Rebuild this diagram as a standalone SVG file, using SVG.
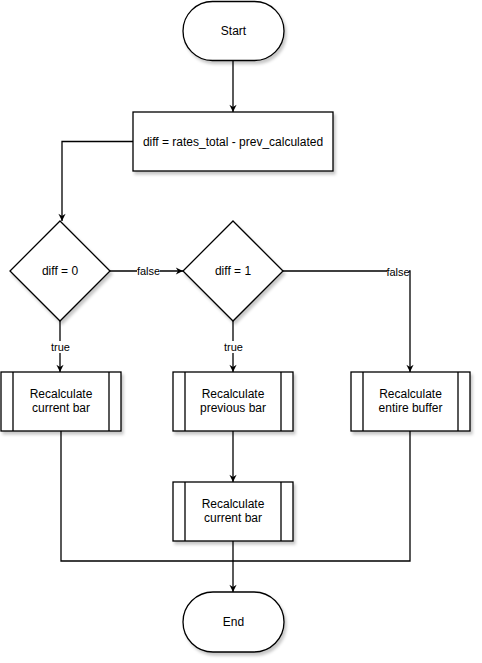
<svg xmlns="http://www.w3.org/2000/svg" width="482" height="663" viewBox="0 0 482 663">
<defs>
<filter id="sh" x="-10%" y="-10%" width="130%" height="130%">
<feDropShadow dx="2" dy="3" stdDeviation="1.5" flood-color="#000" flood-opacity="0.22"/>
</filter>
<marker id="arr" viewBox="0 0 10 10" refX="9" refY="5" markerWidth="9" markerHeight="9" markerUnits="userSpaceOnUse" orient="auto">
<path d="M1,1 L9,5 L1,9 L3.5,5 Z" fill="#000"/>
</marker>
</defs>
<style>
.n{fill:#fff;stroke:#000;stroke-width:1.3;filter:url(#sh)}
.b{fill:none;stroke:#000;stroke-width:1.3}
.t{font-family:"Liberation Sans",Arial,sans-serif;font-size:12px;fill:#000;text-anchor:middle}
.l{font-family:"Liberation Sans",Arial,sans-serif;font-size:11px;fill:#000;text-anchor:middle}
.c{fill:none;stroke:#000;stroke-width:1.3}
.a{marker-end:url(#arr)}
.lb{fill:#fff}
</style>
<g id="connectors">
<path class="c a" d="M233,61 L233,112"/>
<path class="c a" d="M133,141.5 L62,141.5 L62,221"/>
<path class="c a" d="M110,271 L183,271"/>
<path class="c a" d="M60,321 L60,372"/>
<path class="c a" d="M233,321 L233,372"/>
<path class="c a" d="M283,271 L410,271 L410,372"/>
<path class="c a" d="M233,431 L233,482"/>
<path class="c" d="M61,431 L61,561 L233,561"/>
<path class="c" d="M410,431 L410,561 L233,561"/>
<path class="c a" d="M233,541 L233,592"/>
<rect class="lb" x="137" y="265" width="23" height="12"/>
<text class="l" x="148.5" y="275">false</text>
<rect class="lb" x="387" y="266" width="22" height="12"/>
<text class="l" x="398" y="276">false</text>
<rect class="lb" x="50" y="341" width="21" height="12"/>
<text class="l" x="60.5" y="351">true</text>
<rect class="lb" x="223" y="341" width="21" height="12"/>
<text class="l" x="233.5" y="351">true</text>
</g>
<g id="start">
<rect class="n" x="183" y="1.5" width="101" height="59" rx="29.5" ry="29.5"/>
<text class="t" x="233.5" y="35">Start</text>
</g>
<g id="diff">
<rect class="n" x="133" y="112" width="200" height="59"/>
<text class="t" x="233" y="145.5">diff = rates_total - prev_calculated</text>
</g>
<g id="dec0">
<path class="n" d="M60,221 L110,271 L60,321 L10,271 Z"/>
<text class="t" x="60" y="275">diff = 0</text>
</g>
<g id="dec1">
<path class="n" d="M233,221 L283,271 L233,321 L183,271 Z"/>
<text class="t" x="233" y="275">diff = 1</text>
</g>
<g id="curbar1">
<rect class="n" x="1" y="372" width="120" height="59"/>
<path class="b" d="M13,372 V431 M109,372 V431"/>
<text class="t" x="61" y="398">Recalculate</text>
<text class="t" x="61" y="412">current bar</text>
</g>
<g id="prevbar">
<rect class="n" x="173" y="372" width="120" height="59"/>
<path class="b" d="M185,372 V431 M281,372 V431"/>
<text class="t" x="233" y="398">Recalculate</text>
<text class="t" x="233" y="412">previous bar</text>
</g>
<g id="buffer">
<rect class="n" x="351" y="372" width="119" height="59"/>
<path class="b" d="M363,372 V431 M458,372 V431"/>
<text class="t" x="410.5" y="398">Recalculate</text>
<text class="t" x="410.5" y="412">entire buffer</text>
</g>
<g id="curbar2">
<rect class="n" x="173" y="482" width="120" height="59"/>
<path class="b" d="M185,482 V541 M281,482 V541"/>
<text class="t" x="233" y="508">Recalculate</text>
<text class="t" x="233" y="522">current bar</text>
</g>
<g id="end">
<rect class="n" x="183" y="592" width="101" height="60" rx="30" ry="30"/>
<text class="t" x="233.5" y="626">End</text>
</g>
</svg>
